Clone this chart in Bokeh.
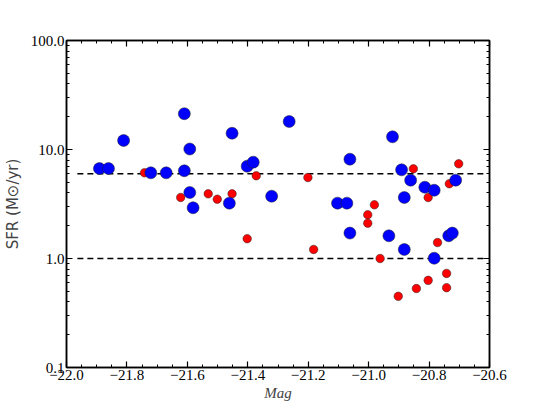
from bokeh.plotting import figure
from bokeh.models import (FixedTicker, CustomJSTickFormatter, LinearAxis, LogAxis,
                          ColumnDataSource, Range1d)
from bokeh.embed import file_html
from bokeh.resources import INLINE

# ---- data ----
blue_mag = [-21.891, -21.861, -21.811, -21.721, -21.670, -21.610, -21.592, -21.610,
            -21.592, -21.581, -21.452, -21.461, -21.402, -21.382, -21.321, -21.263,
            -21.062, -21.103, -21.072, -21.062, -20.921, -20.891, -20.861, -20.882,
            -20.933, -20.882, -20.814, -20.783, -20.783, -20.735, -20.723, -20.712]
blue_sfr = [6.69, 6.69, 12.1, 6.11, 6.11, 21.3, 10.1, 6.38,
            4.03, 2.92, 14.1, 3.22, 7.03, 7.65, 3.73, 18.07,
            8.15, 3.22, 3.22, 1.71, 13.08, 6.51, 5.23, 3.63,
            1.615, 1.21, 4.51, 4.23, 1.006, 1.615, 1.71, 5.23]

red_mag = [-21.742, -21.622, -21.531, -21.501, -21.452, -21.402, -21.372, -21.201,
           -21.182, -20.981, -21.003, -21.003, -20.962, -20.902, -20.852, -20.842,
           -20.803, -20.803, -20.772, -20.742, -20.742, -20.733, -20.702]
red_sfr = [6.11, 3.63, 3.92, 3.50, 3.92, 1.52, 5.74, 5.53,
           1.21, 3.11, 2.52, 2.11, 1.0, 0.45, 6.65, 0.53,
           3.63, 0.63, 1.40, 0.73, 0.54, 4.85, 7.39]

ref_levels = [6.0, 1.0]
ref_mag_extent = [-21.964, -20.62]

x_ticks = [-22.0, -21.8, -21.6, -21.4, -21.2, -21.0, -20.8, -20.6]
x_minor = [round(-22.0 + 0.05 * i, 2) for i in range(29)]
y_ticks = [0.1, 1.0, 10.0, 100.0]
y_minor = [m * d for d in (0.1, 1.0, 10.0) for m in range(2, 10)]

x_range = (-22.0, -20.6)
y_range = (0.1, 100.0)

# ---- figure ----
p = figure(frame_width=423, frame_height=327, output_backend="svg", toolbar_location=None,
           x_range=Range1d(*x_range), y_range=Range1d(*y_range), y_axis_type="log",
           min_border_left=66, min_border_right=40, min_border_top=40, min_border_bottom=36)
p.background_fill_color = "white"
p.border_fill_color = "white"
p.outline_line_color = "black"
p.outline_line_width = 1.5
p.grid.visible = False

tick_font = "Liberation Serif"
xfmt = CustomJSTickFormatter(code="return (tick < 0 ? '\u2212' : '') + Math.abs(tick).toFixed(1);")
yfmt = CustomJSTickFormatter(code="return tick.toFixed(1);")


def style(ax, show_labels=True):
    ax.major_tick_in = 6
    ax.major_tick_out = 0
    ax.minor_tick_in = 3
    ax.minor_tick_out = 0
    ax.major_tick_line_color = "black"
    ax.minor_tick_line_color = "black"
    ax.major_tick_line_width = 1.2
    ax.minor_tick_line_width = 1
    ax.axis_line_color = "black"
    ax.axis_line_width = 1.5
    ax.major_label_text_font = tick_font
    ax.major_label_text_font_size = "15px"
    ax.major_label_text_color = "black" if show_labels else None
    ax.major_label_standoff = 2


xt = FixedTicker(ticks=x_ticks, minor_ticks=x_minor)
yt = FixedTicker(ticks=y_ticks, minor_ticks=y_minor)

xa = p.xaxis[0]
xa.ticker = xt
xa.formatter = xfmt
style(xa)
xa.axis_label = "Mag"
xa.axis_label_text_font = tick_font
xa.axis_label_text_font_style = "italic"
xa.axis_label_text_font_size = "15px"
xa.axis_label_standoff = 2

ya = p.yaxis[0]
ya.ticker = yt
ya.formatter = yfmt
style(ya)
ya.axis_label = "SFR (M\u2299/yr)"
ya.axis_label_text_font = "DejaVu Sans"
ya.axis_label_text_font_style = "normal"
ya.axis_label_text_font_size = "15px"
ya.axis_label_standoff = 6

top = LinearAxis(ticker=xt, formatter=CustomJSTickFormatter(code="return '';"))
style(top, show_labels=False)
p.add_layout(top, "above")

right = LogAxis(ticker=yt, formatter=CustomJSTickFormatter(code="return '';"))
style(right, show_labels=False)
p.add_layout(right, "right")

# reference dashed lines
for lvl in ref_levels:
    p.line(x=ref_mag_extent, y=[lvl, lvl], line_color="black", line_width=1.5,
           line_dash="6 4")

red_src = ColumnDataSource(dict(x=red_mag, y=red_sfr))
blue_src = ColumnDataSource(dict(x=blue_mag, y=blue_sfr))

p.scatter("x", "y", source=red_src, size=8.5, fill_color="#ff0000",
          line_color="#222222", line_width=0.5)
p.scatter("x", "y", source=blue_src, size=12, fill_color="#0000ff",
          line_color="#222222", line_width=0.5)

open("out.html", "w").write(file_html(p, INLINE))
